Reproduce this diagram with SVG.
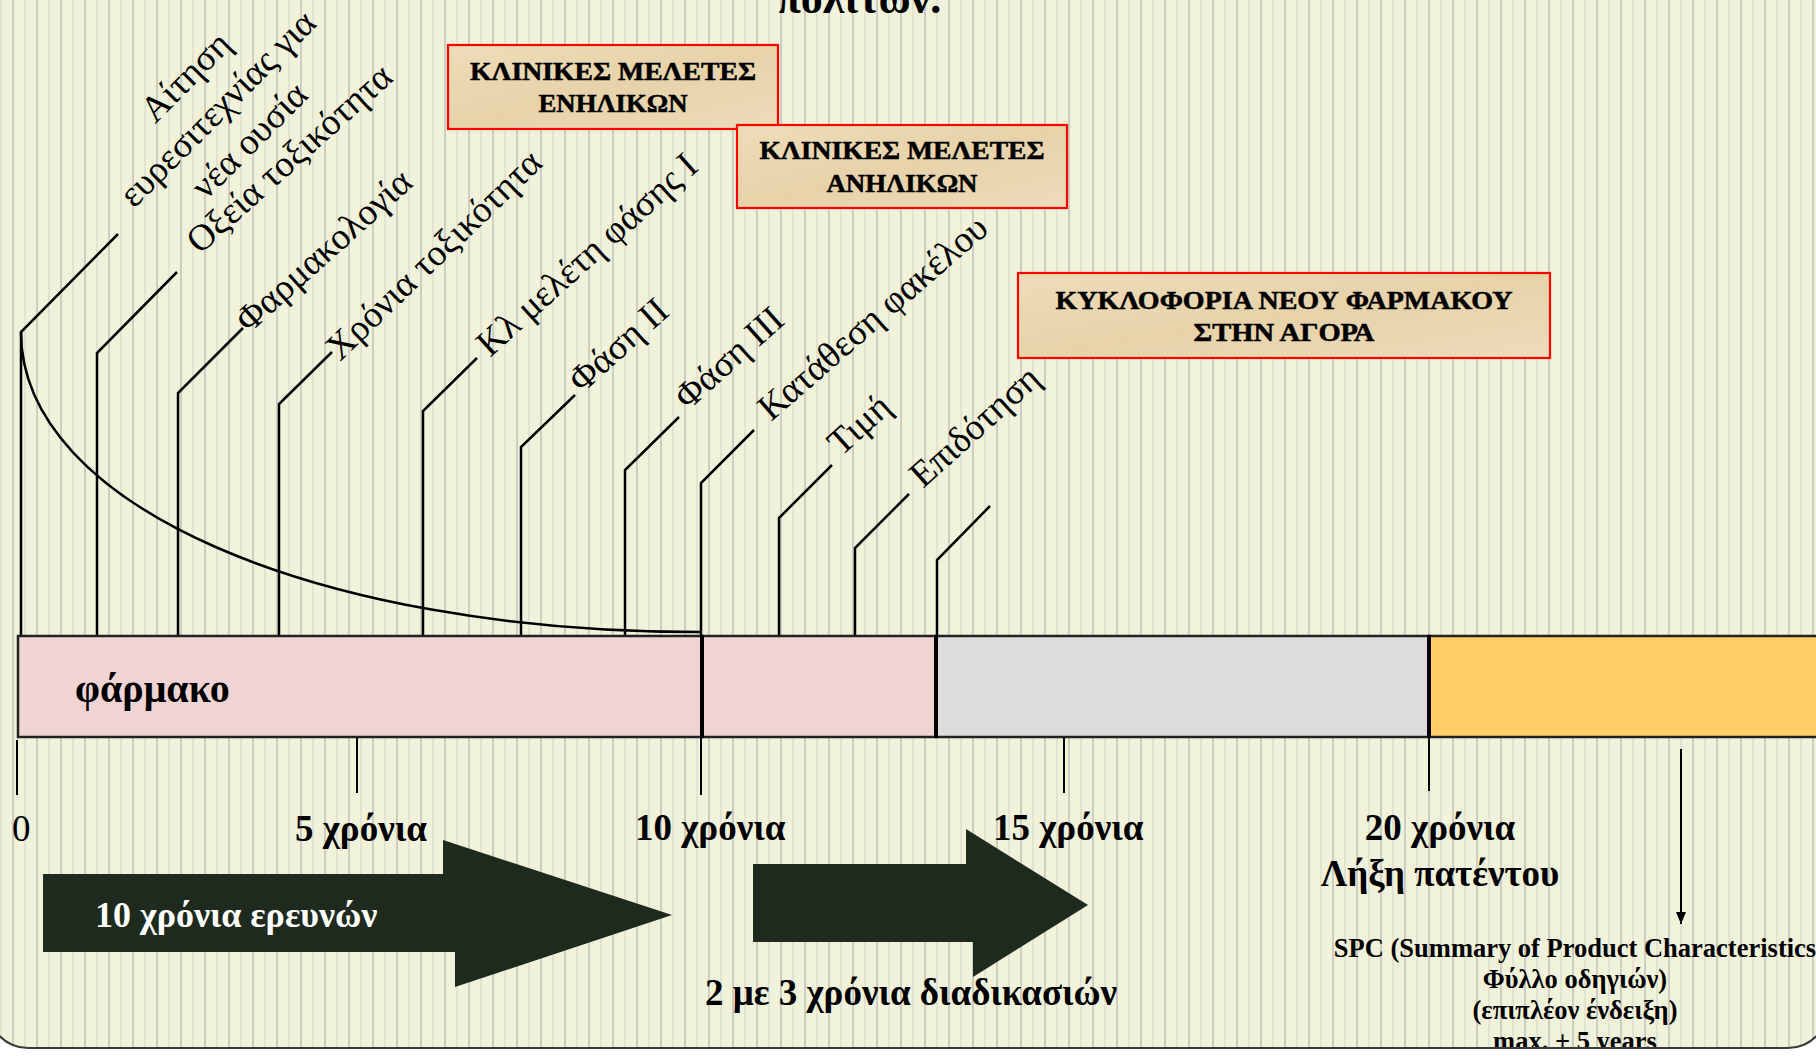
<svg xmlns="http://www.w3.org/2000/svg" width="1816" height="1056" viewBox="0 0 1816 1056">
<style>
.ln{fill:none;stroke:#000;stroke-width:2.5;stroke-linecap:butt;stroke-linejoin:miter}
.tick{stroke:#000;stroke-width:2}
.lbl{font-family:"Liberation Serif","Times New Roman",serif;font-size:37px;fill:#000}
.bx{fill:url(#parch);stroke:#FF0000;stroke-width:2.2}
.bxt{font-family:"Liberation Serif","Times New Roman",serif;font-size:25px;font-weight:bold;fill:#000;stroke:#000;stroke-width:0.5;text-anchor:middle}
.yr{font-family:"Liberation Serif","Times New Roman",serif;font-size:37px;font-weight:bold;fill:#000}
.spc{font-family:"Liberation Serif","Times New Roman",serif;font-size:26.5px;font-weight:bold;fill:#000;text-anchor:middle}
.seg{stroke:#222;stroke-width:2.5}
.div{stroke:#000;stroke-width:4}
.arr{fill:#1F2A1E}
</style>
<defs>
<pattern id="stripes" patternUnits="userSpaceOnUse" width="24" height="10">
<rect width="24" height="10" fill="#F0F2DA"/>
<rect x="0.5" width="1" height="10" fill="#D5D5CA"/>
<rect x="12" width="2" height="10" fill="#CDCDC4"/>
</pattern>
<linearGradient id="parch" x1="0" y1="0" x2="1" y2="1">
<stop offset="0" stop-color="#EEDDBA"/>
<stop offset="0.5" stop-color="#E7D2A9"/>
<stop offset="1" stop-color="#EDDCBB"/>
</linearGradient>
<clipPath id="frameClip">
<rect x="-12" y="-60" width="1840" height="1108" rx="40" ry="40"/>
</clipPath>
<marker id="ah" markerWidth="12" markerHeight="10" refX="12" refY="5" orient="auto" markerUnits="userSpaceOnUse" viewBox="0 0 12 10">
<path d="M0,0 L12,5 L0,10 Z" fill="#000"/>
</marker>
</defs>
<rect width="1816" height="1056" fill="#FFFFFF"/>
<g clip-path="url(#frameClip)">
<rect x="-12" y="-60" width="1840" height="1108" fill="url(#stripes)"/>

<g id="title">
<text x="859" y="13" font-family="Liberation Serif, serif" font-size="44" font-weight="bold" text-anchor="middle">πολιτών.</text>
</g>

<g id="connectors">
<path class="ln" d="M21,636 V332 L118,234"/>
<path class="ln" d="M97,636 V353 L177,272"/>
<path class="ln" d="M178,636 V393 L243,328"/>
<path class="ln" d="M279,636 V404 L332,352"/>
<path class="ln" d="M423,636 V411 L477,358"/>
<path class="ln" d="M521,636 V447 L575,395"/>
<path class="ln" d="M625,636 V470 L679,417"/>
<path class="ln" d="M701,636 V483 L754,430"/>
<path class="ln" d="M779,636 V518 L832,465"/>
<path class="ln" d="M855,636 V548 L909,494"/>
<path class="ln" d="M937,636 V560 L990,506"/>
<path class="ln" d="M21,332 C21,506 315,632 700,632"/>
<line class="tick" x1="17" y1="740" x2="17" y2="795"/>
<line class="tick" x1="357" y1="737" x2="357" y2="793"/>
<line class="tick" x1="701" y1="737" x2="701" y2="795"/>
<line class="tick" x1="1064" y1="737" x2="1064" y2="793"/>
<line class="tick" x1="1429" y1="737" x2="1429" y2="791"/>
<line x1="1681" y1="749" x2="1681" y2="924" stroke="#000" stroke-width="2" marker-end="url(#ah)"/>
</g>

<g id="label-aitisi">
<text class="lbl" transform="translate(226,117) rotate(-45)" text-anchor="middle"><tspan x="0" y="-45">Αίτηση</tspan><tspan x="0" y="0">ευρεσιτεχνίας για</tspan><tspan x="0" y="45">νέα ουσία</tspan></text>
</g>
<g id="label-oxeia"><text class="lbl" transform="translate(200,255) rotate(-42)">Οξεία τοξικότητα</text></g>
<g id="label-farmakologia"><text class="lbl" transform="translate(249,334) rotate(-42)">Φαρμακολογία</text></g>
<g id="label-xronia"><text class="lbl" transform="translate(340,362) rotate(-44)">Χρόνια τοξικότητα</text></g>
<g id="label-kl"><text class="lbl" transform="translate(490,358) rotate(-42)">Κλ μελέτη φάσης Ι</text></g>
<g id="label-fasi2"><text class="lbl" transform="translate(582,394) rotate(-42)">Φάση ΙΙ</text></g>
<g id="label-fasi3"><text class="lbl" transform="translate(688,411) rotate(-42)">Φάση ΙΙΙ</text></g>
<g id="label-katathesi"><text class="lbl" transform="translate(771,422) rotate(-41)">Κατάθεση φακέλου</text></g>
<g id="label-timi"><text class="lbl" transform="translate(841,457) rotate(-42)">Τιμή</text></g>
<g id="label-epidotisi"><text class="lbl" transform="translate(923,489) rotate(-42)">Επιδότηση</text></g>

<g id="box-enilikon">
<rect class="bx" x="448" y="45" width="330" height="84"/>
<text class="bxt" x="613" y="80" textLength="286" lengthAdjust="spacingAndGlyphs">ΚΛΙΝΙΚΕΣ ΜΕΛΕΤΕΣ</text>
<text class="bxt" x="613" y="112" textLength="149" lengthAdjust="spacingAndGlyphs">ΕΝΗΛΙΚΩΝ</text>
</g>
<g id="box-anilikon">
<rect class="bx" x="737" y="125" width="330" height="83"/>
<text class="bxt" x="902" y="159" textLength="285" lengthAdjust="spacingAndGlyphs">ΚΛΙΝΙΚΕΣ ΜΕΛΕΤΕΣ</text>
<text class="bxt" x="902" y="192" textLength="151" lengthAdjust="spacingAndGlyphs">ΑΝΗΛΙΚΩΝ</text>
</g>
<g id="box-kykloforia">
<rect class="bx" x="1018" y="273" width="532" height="85"/>
<text class="bxt" x="1284" y="309" textLength="457" lengthAdjust="spacingAndGlyphs">ΚΥΚΛΟΦΟΡΙΑ ΝΕΟΥ ΦΑΡΜΑΚΟΥ</text>
<text class="bxt" x="1284" y="341" textLength="181" lengthAdjust="spacingAndGlyphs">ΣΤΗΝ ΑΓΟΡΑ</text>
</g>

<g id="bar">
<rect class="seg" x="18" y="636" width="684" height="101" fill="#F0D4D4"/>
<rect class="seg" x="702" y="636" width="234" height="101" fill="#F0D4D4"/>
<rect class="seg" x="936" y="636" width="493" height="101" fill="#DCDCDC"/>
<rect class="seg" x="1429" y="636" width="400" height="101" fill="#FFCE69"/>
<line class="div" x1="702" y1="635" x2="702" y2="738"/>
<line class="div" x1="936" y1="635" x2="936" y2="738"/>
<line class="div" x1="1429" y1="635" x2="1429" y2="738"/>
<text x="75" y="702" font-family="Liberation Serif, serif" font-size="40" font-weight="bold">φάρμακο</text>
</g>

<g id="axis-labels">
<text x="12" y="841" font-family="Liberation Serif, serif" font-size="37">0</text>
<text class="yr" x="295" y="841">5 χρόνια</text>
<text class="yr" x="635" y="840">10 χρόνια</text>
<text class="yr" x="993" y="840">15 χρόνια</text>
<text class="yr" x="1440" y="840" text-anchor="middle">20 χρόνια</text>
<text class="yr" x="1440" y="886" text-anchor="middle">Λήξη πατέντου</text>
</g>

<g id="arrow-research">
<polygon class="arr" points="43,874 443,874 443,840 672,915 455,987 455,952 43,952"/>
<text x="95" y="927" font-family="Liberation Serif, serif" font-size="36" font-weight="bold" fill="#FFFFFF">10 χρόνια ερευνών</text>
</g>
<g id="arrow-procedures">
<polygon class="arr" points="753,864 966,864 966,829 1088,905 973,977 973,942 753,942"/>
<text class="yr" x="705" y="1005">2 με 3 χρόνια διαδικασιών</text>
</g>

<g id="spc">
<text class="spc" x="1575" y="957">SPC (Summary of Product Characteristics</text>
<text class="spc" x="1575" y="988">Φύλλο οδηγιών)</text>
<text class="spc" x="1575" y="1019">(επιπλέον ένδειξη)</text>
<text class="spc" x="1575" y="1050">max. + 5 years</text>
</g>
</g>
<rect x="-12" y="-60" width="1840" height="1108" rx="40" ry="40" fill="none" stroke="#3A3A3A" stroke-width="2"/>
</svg>
